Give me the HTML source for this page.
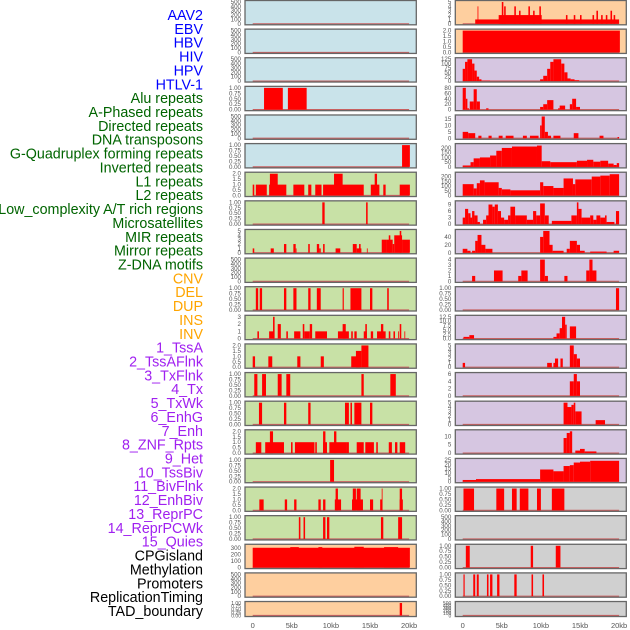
<!DOCTYPE html>
<html><head><meta charset="utf-8"><style>
body{margin:0;background:#fff;width:630px;height:630px;overflow:hidden;font-family:"Liberation Sans",sans-serif}
svg{display:block}
</style></head><body>
<svg id="chart" width="630" height="630" xmlns="http://www.w3.org/2000/svg"></svg>
<script>
const labels=["AAV2","EBV","HBV","HIV","HPV","HTLV-1","Alu repeats","A-Phased repeats","Directed repeats","DNA transposons","G-Quadruplex forming repeats","Inverted repeats","L1 repeats","L2 repeats","Low_complexity A/T rich regions","Microsatellites","MIR repeats","Mirror repeats","Z-DNA motifs","CNV","DEL","DUP","INS","INV","1_TssA","2_TssAFlnk","3_TxFlnk","4_Tx","5_TxWk","6_EnhG","7_Enh","8_ZNF_Rpts","9_Het","10_TssBiv","11_BivFlnk","12_EnhBiv","13_ReprPC","14_ReprPCWk","15_Quies","CPGisland","Methylation","Promoters","ReplicationTiming","TAD_boundary"];
const labelGroups=[6,13,5,15,5];
const groupColors=["#0000ff","#006400","#ffa500","#a020f0","#000000"];
const xTicks=[0,5,10,15,20];
const xTickLabels=["0","5kb","10kb","15kb","20kb"];
const T500=["0","100","200","300","400","500"],T1=["0.00","0.25","0.50","0.75","1.00"],T2=["0.0","0.5","1.0","1.5","2.0"];
const midBg=["#c9e3ea","#c9e3ea","#c9e3ea","#c9e3ea","#c9e3ea","#c9e3ea","#c8e1a6","#c8e1a6","#c8e1a6","#c8e1a6","#c8e1a6","#c8e1a6","#c8e1a6","#c8e1a6","#c8e1a6","#c8e1a6","#c8e1a6","#c8e1a6","#c8e1a6","#fecf9f","#fecf9f","#fecf9f"];
const rightBg=["#fecf9f","#fecf9f","#d6c6e1","#d6c6e1","#d6c6e1","#d6c6e1","#d6c6e1","#d6c6e1","#d6c6e1","#d6c6e1","#d6c6e1","#d6c6e1","#d6c6e1","#d6c6e1","#d6c6e1","#d6c6e1","#d6c6e1","#d0d0d0","#d0d0d0","#d0d0d0","#d0d0d0","#d0d0d0"];
const midYmax=[500,500,500,1,500,1,2,1,5,500,1,3,2,1,1,2,1,2,1,330,500,1];
const rightYmax=[5,2,125,80,17,230,230,10,55,4,1,12.5,5,6,5,13,25,1,500,1,1,500];
const midTicks=[T500,T500,T500,T1,T500,T1,T2,T1,["0","1","2","3","4","5"],T500,T1,["0","1","2","3"],T2,T1,T1,T2,T1,T2,T1,["0","100","200","300"],T500,T1];
const rightTicks=[["0","1","2","3","4","5"],T2,["0","25","50","75","100","125"],["0","20","40","60","80"],["0","5","10","15"],["0","50","100","150","200"],["0","50","100","150","200"],["0","3","6","9"],["0","20","40"],["0","1","2","3","4"],T1,["0.0","2.5","5.0","7.5","10.0","12.5"],["0","1","2","3","4","5"],["0","2","4","6"],["0","1","2","3","4","5"],["0","5","10"],["0","5","10","15","20","25"],T1,T500,T1,T1,T500];
// segments: [startKb, endKb, value]
const midData=[
[],[],[],
[[1.45,3.85,1],[4.5,6.9,1]],
[],
[[19.1,20.1,1]],
[[0,0.2,1],[0.4,1.8,1],[2.1,4.3,1],[2.2,3.2,2],[5.2,6.6,1],[7.1,7.5,1],[8.0,8.8,1],[9.0,14.2,1],[10.4,11.5,2],[15.1,16.2,1],[15.6,15.9,2],[16.7,17.0,1],[18.8,20.1,1]],
[[8.9,9.2,1],[14.5,14.7,1]],
[[0,0.2,1],[2.3,2.7,1],[4.0,4.3,2],[5.2,5.5,2],[5.5,5.6,1],[7.1,7.3,2],[8.2,8.5,2],[8.5,8.7,1],[9.0,9.2,2],[10.6,11.2,1],[12.8,13.3,2],[13.3,13.9,1],[13.6,13.8,2],[14.6,14.7,1],[16.5,17.1,3],[17.1,17.9,3],[17.4,17.6,4],[17.9,18.1,2],[18.1,19.1,4],[18.8,19.0,5],[19.1,20.1,3]],
[],
[[0.4,0.7,1],[0.9,1.2,1],[4.0,4.3,1],[5.2,5.6,1],[7.1,7.4,1],[8.2,8.7,1],[11.5,11.65,1],[12.5,13.9,1],[15.0,15.3,1],[17.2,17.4,1]],
[[0.6,0.8,1],[2.1,2.7,1],[2.6,2.8,3],[3.2,3.6,2],[4.3,4.5,1],[5.3,6.1,1],[6.4,6.6,2],[6.6,7.3,1],[7.3,7.6,2],[8.0,9.5,1],[10.9,12.3,1],[11.5,11.9,2],[12.6,12.8,1],[13.0,13.3,1],[14.2,14.6,1],[14.4,14.6,2],[15.1,15.4,1],[15.9,17.0,1],[16.4,16.7,2],[17.4,17.6,1],[18.0,18.2,1],[18.6,18.7,1],[18.8,19.0,2],[19.4,19.5,1]],
[[0,0.3,1],[2.0,2.5,1],[5.7,6.1,1],[8.7,9.1,1],[12.6,13.7,1],[13.2,13.9,1.5],[13.9,14.8,2]],
[[0.2,0.6,1],[1.2,1.7,1],[3.2,3.7,1],[4.3,4.8,1],[13.9,14.2,1],[17.6,18.3,1]],
[[0.8,1.2,1],[4.0,4.3,1],[7.1,7.4,1],[11.8,12.3,1],[12.5,12.7,1],[13.0,13.9,1],[15.0,15.3,1]],
[[0.4,1.1,1],[1.6,4.0,1],[2.2,2.6,2],[4.9,5.1,1],[5.4,7.9,1],[8.0,8.2,1],[9.0,9.5,1],[9.0,9.3,2],[9.8,12.0,1],[10.4,10.7,2],[12.0,12.3,1],[13.3,14.2,1],[14.4,15.5,1],[15.8,16.0,1],[17.4,17.8,1],[18.2,18.5,1],[18.8,19.5,1]],
[[9.9,10.4,1]],
[[0.85,1.4,1],[4.1,4.4,1],[5.3,5.6,1],[8.4,8.7,1],[9.0,9.3,1],[10.5,11.3,1],[10.6,10.9,2],[12.7,14.1,1],[12.8,13.2,2],[13.3,13.8,2],[15.0,15.4,1],[16.3,16.6,1],[16.5,16.6,2],[18.8,19.2,1],[18.8,19.1,2]],
[[5.9,6.1,1],[6.5,6.7,1],[9.0,9.3,1],[9.5,9.8,1],[16.4,16.7,1],[18.6,19.1,1]],
[[0,20.1,300],[4.8,5.9,310],[8.4,8.9,310],[13.0,14.2,315],[16.8,18.6,310]],
[],
[[18.8,19.1,1]]
];
const rightData=[
[[1.6,20.0,1],[4.6,10.1,2],[1.9,2.0,4],[5.0,5.2,5],[5.3,5.5,4],[6.6,6.8,4],[7.2,7.4,3],[8.4,8.6,4],[9.0,9.2,3],[9.8,10.0,4],[13.2,13.4,2],[14.2,14.4,2],[15.0,15.2,2],[16.6,16.8,2],[17.1,17.3,3],[17.7,17.9,2],[18.3,18.5,2],[18.9,19.1,3],[19.3,19.5,2]],
[[0,20.1,2]],
[[0,0.3,70],[0.3,0.6,110],[0.6,1.2,125],[1.2,1.5,100],[1.5,1.8,60],[1.8,2.1,25],[2.1,2.4,10],[2.4,3.5,3],[3.5,20,1],[9.9,10.3,10],[10.3,10.8,30],[10.8,11.2,70],[11.2,11.6,110],[11.6,12.6,125],[12.6,13.0,100],[13.0,13.4,50],[13.4,13.8,15],[13.8,14.3,10],[14.3,14.9,5]],
[[0,0.4,80],[0.4,0.6,40],[0.6,0.8,5],[0.9,1.4,30],[1.4,1.8,75],[1.8,2.2,30],[3.0,3.3,5],[9.9,10.3,10],[10.3,10.8,20],[10.8,11.6,35],[12.2,12.4,5],[12.4,13.1,15],[13.7,14.0,20],[14.0,14.5,40],[14.5,15.0,10]],
[[0,0.7,5],[0.7,1.6,4],[2.0,2.4,2],[3.3,3.7,2],[4.6,5.1,2],[5.5,6.5,2],[7.7,8.2,2],[8.6,9.7,2],[9.9,10.1,10],[10.1,10.5,17],[10.5,10.9,5],[10.9,11.3,2],[11.6,12.5,2],[14.2,14.8,4],[17.5,18.0,2],[19.8,20.0,1]],
[[0,1.0,15],[1.0,1.4,50],[1.4,2.2,90],[2.2,3.5,100],[3.5,4.3,120],[4.3,5.0,170],[5.0,6.3,200],[6.3,9.5,215],[9.5,10.1,225],[10.1,11.2,60],[11.2,14.6,50],[14.6,15.9,65],[15.9,16.7,75],[16.7,17.6,55],[17.6,18.6,65],[18.6,19.3,35],[19.3,19.7,20],[19.7,20.0,40]],
[[0,1.4,120],[1.4,1.8,75],[1.8,2.2,130],[2.2,2.8,160],[2.8,4.6,140],[4.6,5.0,80],[5.0,6.1,65],[6.1,9.9,55],[9.9,10.3,140],[10.3,11.6,100],[11.6,12.9,80],[12.9,14.1,180],[14.1,14.4,120],[14.4,16.5,170],[16.5,17.6,200],[17.6,18.8,210],[18.8,20.0,225]],
[[0,0.3,3],[0.3,0.7,7],[0.7,1.0,5],[1.0,1.2,3],[1.2,1.5,6],[1.5,1.9,4],[1.9,2.2,1],[2.6,3.0,2],[3.0,3.3,4],[3.3,3.8,9],[3.8,4.1,8],[4.1,4.5,9],[4.5,4.9,6],[4.9,5.3,3],[5.3,5.8,2],[5.8,6.1,4],[6.1,6.7,8],[6.7,8.2,4],[8.2,9.0,2],[9.0,9.4,6],[9.4,9.9,4],[9.9,10.5,9.5],[10.5,11.0,4],[11.4,13.9,1.5],[13.9,14.6,4],[14.6,14.8,10],[14.8,15.2,7],[15.2,16.3,3],[16.3,16.7,4],[16.7,17.1,2],[17.1,17.6,4],[17.6,18.2,3],[18.2,18.4,4],[18.4,19.4,1],[19.6,20.0,6]],
[[0,0.6,10],[0.6,1.0,5],[1.2,1.6,5],[1.6,1.9,30],[1.9,2.4,45],[2.4,2.9,20],[2.9,3.8,10],[9.9,10.3,40],[10.3,11.1,55],[11.1,11.5,20],[11.5,12.9,5],[13.3,13.7,10],[13.7,14.6,30],[14.6,15.0,20],[15.0,15.6,5],[16.3,18.4,3],[19.3,20.0,5]],
[[1.2,1.6,1],[4.0,5.1,2],[7.1,7.5,1],[7.5,8.3,2],[9.9,10.5,4],[10.5,10.9,1],[13.0,13.4,1],[15.8,16.2,2],[16.2,16.6,4],[16.6,17.1,2]],
[[19.6,20.0,1]],
[[0.1,0.85,1],[0.85,1.45,2],[11.6,12.0,1],[12.0,12.4,3],[12.4,12.7,6],[12.7,13.1,12.5],[13.1,13.3,8],[13.7,14.5,7]],
[[0,0.3,1],[10.8,11.4,1],[11.6,11.8,1],[11.8,12.2,2],[12.5,12.8,2],[13.7,14.2,5],[14.2,14.6,3],[14.6,15.0,2]],
[[13.7,14.2,4],[14.2,14.6,6],[14.6,15.0,4]],
[[12.9,13.4,5],[13.4,13.9,4],[13.9,14.2,4.5],[14.2,14.4,5],[14.4,15.2,3],[17.0,18.2,1]],
[[12.9,13.3,9],[13.3,13.7,12],[13.7,14.0,13],[14.4,15.0,1.5],[15.0,15.6,2.5],[15.6,17.1,1]],
[[0,1.7,2],[1.7,9.9,3],[9.9,11.6,14],[11.6,12.9,12],[12.9,13.7,18],[13.7,14.2,19],[14.2,15.0,22],[15.0,16.3,23],[16.3,20.0,24]],
[[0.1,1.45,1],[4.3,5.3,1],[6.3,6.9,1],[7.3,8.4,1],[9.5,10.0,1],[11.4,13.0,1]],
[],
[[0.4,0.9,1],[8.7,9.0,1],[11.9,12.5,1]],
[[0.1,0.25,1],[1.35,1.6,1],[1.8,2.05,1],[3.1,3.3,1],[3.5,3.8,1],[4.4,4.7,1],[6.6,6.9,1],[8.8,9.0,1],[10.2,10.4,1]],
[]
];
const NS="http://www.w3.org/2000/svg";
const svg=document.getElementById("chart");
function mk(tag,attrs,parent){const e=document.createElementNS(NS,tag);for(const k in attrs)e.setAttribute(k,attrs[k]);(parent||svg).appendChild(e);return e;}
let gi=0,cnt=0;
labels.forEach((t,i)=>{
  while(cnt>=labelGroups[gi]){cnt=0;gi++;}
  cnt++;
  const el=mk("text",{x:203,y:15+i*13.86+5,"text-anchor":"end","font-size":"14.3",fill:groupColors[gi],"font-family":"Liberation Sans, sans-serif"});
  el.textContent=t;
  
  
});
const cols=[{x0:245,x1:416.3,zero:252.7,bg:midBg,ym:midYmax,tk:midTicks,data:midData,name:'left'},
            {x0:455.3,x1:626.3,zero:462.7,bg:rightBg,ym:rightYmax,tk:rightTicks,data:rightData,name:'right'}];
const pxPerKb=7.82;
cols.forEach(c=>{
  const xs=kb=>c.zero+kb*pxPerKb;
  for(let r=0;r<22;r++){
    const top=28.62*r+0.5, h=(r===21?15:24.3), bot=top+h;
    const g=mk("g",{});
    
    
    mk("rect",{x:c.x0,y:top,width:c.x1-c.x0,height:h,fill:c.bg[r]},g);
    const ymax=c.ym[r];
    const ys=v=>bot-1-v/ymax*(h-2.5);
    mk("line",{x1:xs(0),x2:xs(20),y1:bot-1,y2:bot-1,stroke:"#c86060","stroke-width":1.2},g);
    c.data[r].forEach((s,i)=>{
      const b=mk("rect",{x:xs(s[0]),y:ys(s[2]),width:Math.max(0.8,xs(s[1])-xs(s[0])),height:bot-1-ys(s[2]),fill:"#ff0000"},g);
      
      
    });
    mk("rect",{x:c.x0,y:top,width:c.x1-c.x0,height:h,fill:"none",stroke:"#666","stroke-width":1.3},g);
    c.tk[r].forEach(t=>{
      const v=parseFloat(t);
      const el=mk("text",{x:c.x0-4,y:ys(v)+2,"text-anchor":"end","font-size":(r===21?"5":"6.2"),fill:"#555"},g);
      el.textContent=t;
      
      
    });
  }
  xTicks.forEach((v,i)=>{
    const el=mk("text",{x:xs(v),y:628,"text-anchor":"middle","font-size":"7.5",fill:"#555"});
    el.textContent=xTickLabels[i];
    
    
  });
});
</script>
</body></html>
